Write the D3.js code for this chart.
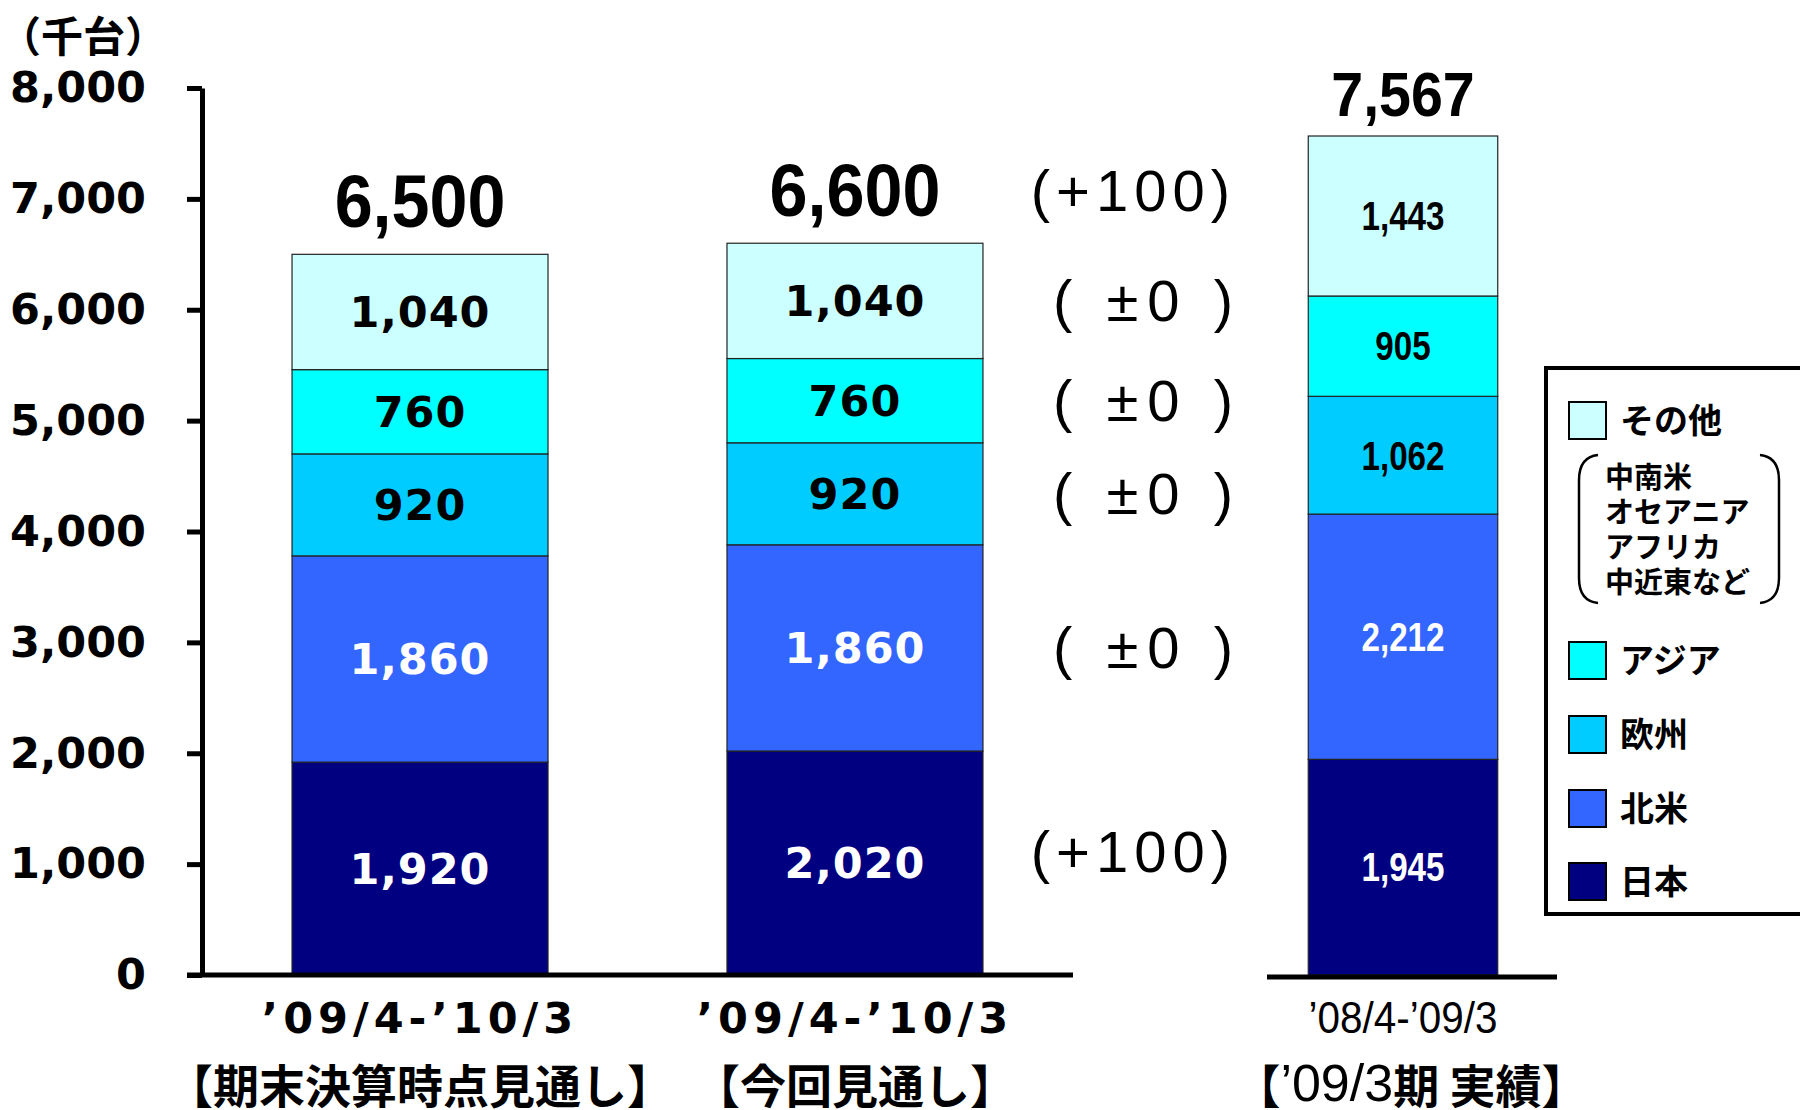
<!DOCTYPE html>
<html>
<head>
<meta charset="utf-8">
<script src="https://cdn.jsdelivr.net/npm/d3@7"></script>
<style>
body{margin:0;background:#fff;}
svg{display:block;}
.wide{font-family:"DejaVu Sans",sans-serif;font-weight:bold;}
.sans{font-family:"Liberation Sans",Arial,sans-serif;}
.cjk{font-family:"Noto Sans CJK JP",sans-serif;font-weight:bold;}
</style>
</head>
<body>
<svg id="chart" width="1800" height="1110"></svg>
<script>
// data
var periods = ["’09/4-’10/3", "’09/4-’10/3", "’08/4-’09/3"];
var titles = ["【期末決算時点見通し】", "【今回見通し】", "【’09/3期 実績】"];
var regions = ["日本", "北米", "欧州", "アジア", "その他"];
var japan = [1920, 2020, 1945];
var northAmerica = [1860, 1860, 2212];
var europe = [920, 920, 1062];
var asia = [760, 760, 905];
var other = [1040, 1040, 1443];
var totals = [6500, 6600, 7567];
var totalChange = 100;
var regionChange = [100, 0, 0, 0, 0];
var yTicks = [0, 1000, 2000, 3000, 4000, 5000, 6000, 7000, 8000];
var otherNote = ["中南米", "オセアニア", "アフリカ", "中近東など"];

var colors = ["#000080", "#3366ff", "#00ccff", "#00ffff", "#ccffff"];
var textColors = ["#fff", "#fff", "#000", "#000", "#000"];

var svg = d3.select("#chart");

var rows = periods.map(function(p, i) {
	return {i: i, "日本": japan[i], "北米": northAmerica[i], "欧州": europe[i], "アジア": asia[i], "その他": other[i]};
});
var series = d3.stack().keys(regions)(rows);

var y = d3.scaleLinear().domain([0, 8000]).range([975, 88]);

// first two bars share the main axis, the actual result stands apart
var xa = d3.scaleBand().domain([0, 1]).range([202, 1073]).paddingInner(0.4115).paddingOuter(0.207);
var xb = d3.scaleBand().domain([2]).range([1259, 1547]).paddingOuter(0.26);
var xPos = function(i) { return i < 2 ? xa(i) : xb(i); };
var bw = function(i) { return i < 2 ? xa.bandwidth() : xb.bandwidth(); };
var xMid = function(i) { return xPos(i) + bw(i) / 2; };

// condensed text: no narrow font installed, so squeeze horizontally
var place = function(x, y, sx) {
	return "translate(" + x + "," + y + ") scale(" + sx + ",1)";
};

// unit
svg.append("text").attr("class", "cjk")
	.attr("x", -1).attr("y", 33).attr("dominant-baseline", "central")
	.attr("font-size", 42).text("（千台）");

// y axis
var yAxis = svg.append("g")
	.attr("transform", "translate(202,0)")
	.call(d3.axisLeft(y).tickValues(yTicks).tickSize(15).tickSizeOuter(0).tickPadding(41).tickFormat(d3.format(",")));
yAxis.select(".domain").attr("stroke", "#000").attr("stroke-width", 5);
yAxis.selectAll(".tick line").attr("stroke", "#000").attr("stroke-width", 5);
yAxis.selectAll(".tick text").attr("class", "wide").attr("font-size", 43).attr("fill", "#000");

// bars
svg.append("g").selectAll("g")
	.data(series)
	.enter().append("g")
	.attr("fill", function(d, k) { return colors[k]; })
	.selectAll("rect")
	.data(function(d) { return d; })
	.enter().append("rect")
	.attr("x", function(d) { return xPos(d.data.i); })
	.attr("y", function(d) { return y(d[1]); })
	.attr("width", function(d) { return bw(d.data.i); })
	.attr("height", function(d) { return y(d[0]) - y(d[1]); })
	.attr("stroke", "#222")
	.attr("stroke-width", 1.2);

// baselines
svg.append("line").attr("x1", 187).attr("x2", 1073).attr("y1", y(0)).attr("y2", y(0))
	.attr("stroke", "#000").attr("stroke-width", 5);
svg.append("line").attr("x1", 1267).attr("x2", 1557).attr("y1", y(0) + 2).attr("y2", y(0) + 2)
	.attr("stroke", "#000").attr("stroke-width", 5);

// segment labels
series.forEach(function(s, k) {
	svg.append("g").selectAll("text")
		.data(s)
		.enter().append("text")
		.attr("class", function(d) { return d.data.i < 2 ? "wide" : "sans"; })
		.attr("font-weight", "bold")
		.attr("font-size", function(d) { return d.data.i < 2 ? 43 : 41; })
		.attr("letter-spacing", function(d) { return d.data.i < 2 ? 1 : 0; })
		.attr("fill", textColors[k])
		.attr("text-anchor", "middle")
		.attr("dominant-baseline", "central")
		.attr("transform", function(d) {
			return place(xMid(d.data.i), (y(d[0]) + y(d[1])) / 2, d.data.i < 2 ? 1 : 0.81);
		})
		.text(function(d) { return d3.format(",")(d[1] - d[0]); });
});

// totals
var totalSize = [75, 75, 63], totalGap = [27, 27, 20];
svg.append("g").selectAll("text")
	.data(totals)
	.enter().append("text")
	.attr("class", "sans")
	.attr("font-weight", "bold")
	.attr("font-size", function(d, i) { return totalSize[i]; })
	.attr("text-anchor", "middle")
	.attr("transform", function(d, i) { return place(xMid(i), y(d) - totalGap[i], 0.91); })
	.text(function(d) { return d3.format(",")(d); });

// change vs. previous outlook
var fmtChange = function(v) { return v === 0 ? "( ±0 )" : "(+" + v + ")"; };
svg.append("text").attr("class", "sans")
	.attr("font-size", 58).attr("text-anchor", "end")
	.attr("letter-spacing", 6)
	.attr("dominant-baseline", "central")
	.attr("x", 1236).attr("y", 190)
	.text(fmtChange(totalChange));
svg.append("g").selectAll("text")
	.data(series)
	.enter().append("text")
	.attr("class", "sans")
	.attr("font-size", 58).attr("text-anchor", "end")
	.attr("letter-spacing", function(s, k) { return regionChange[k] === 0 ? 9 : 6; })
	.attr("dominant-baseline", "central")
	.attr("x", function(s, k) { return regionChange[k] === 0 ? 1242 : 1236; })
	.attr("y", function(s) { return (y(s[1][0]) + y(s[1][1])) / 2 - (s.index == 0 ? 12 : 0); })
	.text(function(s, k) { return fmtChange(regionChange[k]); });

// period labels
svg.append("g").selectAll("text")
	.data(periods)
	.enter().append("text")
	.attr("class", function(d, i) { return i < 2 ? "wide" : "sans"; })
	.attr("font-size", function(d, i) { return i < 2 ? 43 : 44; })
	.attr("letter-spacing", function(d, i) { return i < 2 ? 5 : 0; })
	.attr("text-anchor", "middle")
	.attr("transform", function(d, i) { return place(xMid(i), 1033, i < 2 ? 1 : 0.92); })
	.text(function(d) { return d; });

// titles
titles.forEach(function(t, i) {
	var tx = svg.append("text").attr("class", "cjk")
		.attr("font-size", 46).attr("text-anchor", "middle")
		.attr("dominant-baseline", "central")
		.attr("x", xMid(i) + (i == 2 ? 8 : 0)).attr("y", 1083);
	if (i < 2) {
		tx.text(t);
	} else {
		tx.append("tspan").text("【");
		tx.append("tspan").attr("class", "sans").attr("font-weight", "normal").attr("font-size", 52).text("’09/3");
		tx.append("tspan").text("期 実績】");
	}
});

// legend
var lg = svg.append("g");
lg.append("rect").attr("x", 1546).attr("y", 368).attr("width", 300).attr("height", 546)
	.attr("fill", "#fff").attr("stroke", "#000").attr("stroke-width", 4);
var legendY = {"その他": 420, "アジア": 660, "欧州": 734, "北米": 808, "日本": 881};
var items = lg.selectAll("g.item")
	.data(regions.slice().reverse())
	.enter().append("g").attr("class", "item")
	.attr("transform", function(d) { return "translate(1569," + legendY[d] + ")"; });
items.append("rect").attr("x", 0).attr("y", -18).attr("width", 37).attr("height", 37)
	.attr("fill", function(d) { return colors[regions.indexOf(d)]; })
	.attr("stroke", "#000").attr("stroke-width", 2);
items.append("text").attr("class", "cjk")
	.attr("x", 51).attr("y", -2).attr("dominant-baseline", "central")
	.attr("font-size", 34).text(function(d) { return d; });

lg.selectAll("text.note")
	.data(otherNote)
	.enter().append("text").attr("class", "cjk note")
	.attr("x", 1605).attr("y", function(d, i) { return 475 + i * 35; })
	.attr("dominant-baseline", "central").attr("font-size", 29)
	.text(function(d) { return d; });
lg.append("path").attr("d", "M1598,455 Q1579,457 1579,480 L1579,578 Q1579,601 1598,603")
	.attr("fill", "none").attr("stroke", "#000").attr("stroke-width", 2.5);
lg.append("path").attr("d", "M1760,455 Q1779,457 1779,480 L1779,578 Q1779,601 1760,603")
	.attr("fill", "none").attr("stroke", "#000").attr("stroke-width", 2.5);
</script>
</body>
</html>
